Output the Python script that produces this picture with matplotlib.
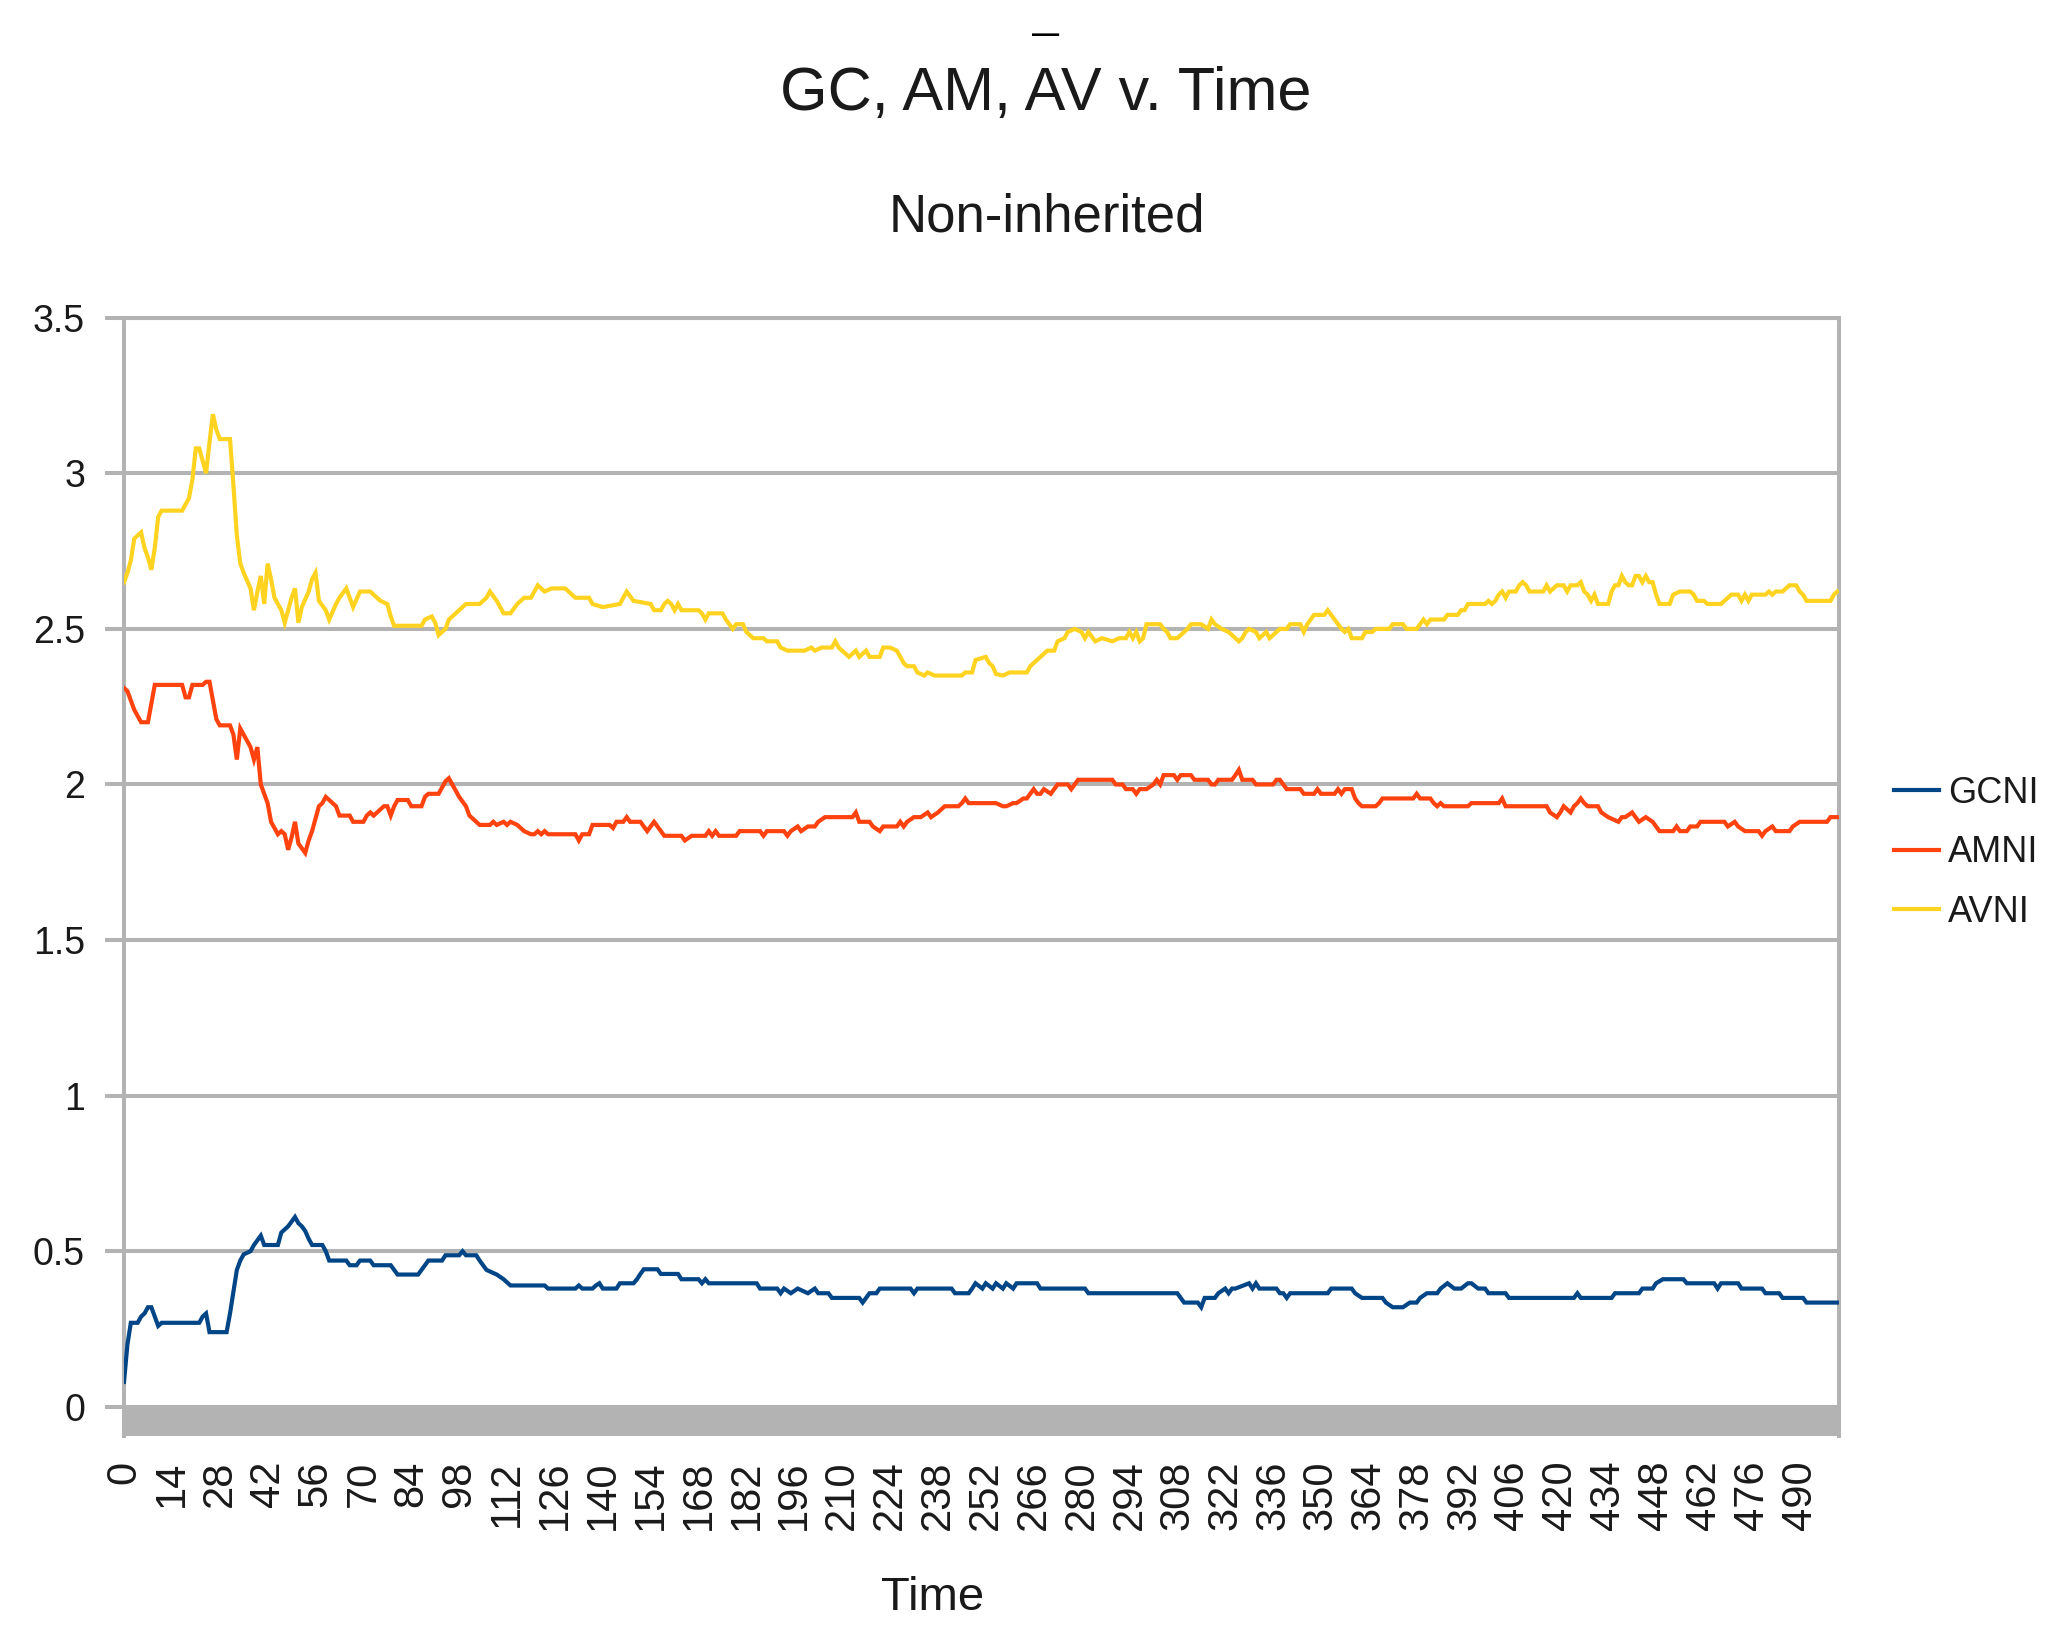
import matplotlib
matplotlib.use("Agg")
import matplotlib.pyplot as plt
from matplotlib import font_manager

# GCNI (blue)
t_gc = [0, 1, 2, 4, 5, 6, 7, 8, 9, 10,
        11, 22, 23, 24, 25, 30, 31, 32, 33, 34,
        35, 37, 38, 39, 40, 41, 45, 46, 48, 50,
        51, 52, 53, 54, 55, 58, 59, 60, 65, 66,
        68, 69, 72, 73, 78, 79, 80, 86, 87, 88,
        89, 93, 94, 98, 99, 100, 103, 104, 106, 109,
        111, 113, 123, 124, 132, 133, 134, 137, 138, 139,
        140, 144, 145, 149, 150, 151, 152, 156, 157, 162,
        163, 168, 169, 170, 171, 185, 186, 191, 192, 193,
        195, 197, 200, 202, 203, 206, 207, 215, 216, 217,
        218, 220, 221, 230, 231, 232, 242, 243, 247, 248,
        249, 251, 252, 254, 255, 257, 258, 260, 261, 267,
        268, 281, 282, 308, 309, 310, 314, 315, 316, 319,
        320, 322, 323, 324, 325, 329, 330, 331, 332, 337,
        338, 339, 340, 341, 352, 353, 359, 360, 362, 368,
        369, 371, 374, 376, 378, 379, 381, 384, 385, 387,
        389, 391, 393, 394, 396, 398, 399, 404, 405, 424,
        425, 426, 435, 436, 443, 444, 447, 448, 450, 456,
        457, 465, 466, 467, 472, 473, 479, 480, 484, 485,
        491, 492, 501]
gc = [0.08, 0.20, 0.27, 0.27, 0.29, 0.30, 0.32, 0.32, 0.29, 0.26,
      0.27, 0.27, 0.29, 0.30, 0.24, 0.24, 0.30, 0.37, 0.44, 0.47,
      0.49, 0.50, 0.52, 0.535, 0.55, 0.52, 0.52, 0.56, 0.58, 0.61,
      0.59, 0.58, 0.565, 0.54, 0.52, 0.52, 0.50, 0.47, 0.47, 0.455,
      0.455, 0.47, 0.47, 0.455, 0.455, 0.44, 0.425, 0.425, 0.44, 0.455,
      0.47, 0.47, 0.487, 0.487, 0.50, 0.487, 0.487, 0.47, 0.44, 0.425,
      0.41, 0.39, 0.39, 0.38, 0.38, 0.39, 0.38, 0.38, 0.39, 0.397,
      0.38, 0.38, 0.397, 0.397, 0.41, 0.427, 0.442, 0.442, 0.427, 0.427,
      0.41, 0.41, 0.397, 0.41, 0.397, 0.397, 0.38, 0.38, 0.365, 0.38,
      0.365, 0.38, 0.365, 0.38, 0.365, 0.365, 0.35, 0.35, 0.335, 0.35,
      0.365, 0.365, 0.38, 0.38, 0.365, 0.38, 0.38, 0.365, 0.365, 0.38,
      0.397, 0.38, 0.397, 0.38, 0.397, 0.38, 0.397, 0.38, 0.397, 0.397,
      0.38, 0.38, 0.365, 0.365, 0.35, 0.335, 0.335, 0.32, 0.35, 0.35,
      0.365, 0.38, 0.365, 0.38, 0.38, 0.397, 0.38, 0.397, 0.38, 0.38,
      0.365, 0.365, 0.35, 0.365, 0.365, 0.38, 0.38, 0.365, 0.35, 0.35,
      0.335, 0.32, 0.32, 0.335, 0.335, 0.35, 0.365, 0.365, 0.38, 0.397,
      0.38, 0.38, 0.397, 0.397, 0.38, 0.38, 0.365, 0.365, 0.35, 0.35,
      0.365, 0.35, 0.35, 0.365, 0.365, 0.38, 0.38, 0.397, 0.41, 0.41,
      0.397, 0.397, 0.38, 0.397, 0.397, 0.38, 0.38, 0.365, 0.365, 0.35,
      0.35, 0.335, 0.335]

# AMNI (red)
t_am = [0, 1, 2, 3, 5, 7, 8, 9, 17, 18,
        19, 20, 23, 24, 25, 26, 27, 28, 31, 32,
        33, 34, 35, 37, 38, 39, 40, 41, 42, 43,
        45, 46, 47, 48, 49, 50, 51, 53, 54, 55,
        56, 57, 58, 59, 60, 62, 63, 66, 67, 70,
        71, 72, 73, 75, 76, 77, 78, 79, 80, 83,
        84, 87, 88, 89, 92, 93, 94, 95, 96, 97,
        98, 100, 101, 103, 104, 107, 108, 109, 111, 112,
        113, 115, 117, 119, 120, 121, 122, 123, 124, 132,
        133, 134, 136, 137, 142, 143, 144, 146, 147, 148,
        151, 152, 153, 155, 156, 157, 158, 163, 164, 166,
        170, 171, 172, 173, 174, 179, 180, 186, 187, 188,
        193, 194, 195, 197, 198, 200, 202, 203, 205, 213,
        214, 215, 218, 219, 221, 222, 226, 227, 228, 229,
        231, 233, 235, 236, 238, 240, 244, 245, 246, 247,
        255, 257, 258, 260, 261, 263, 264, 265, 266, 267,
        268, 269, 271, 272, 273, 276, 277, 278, 279, 289,
        290, 292, 293, 295, 296, 297, 299, 301, 302, 303,
        304, 307, 308, 309, 312, 313, 317, 318, 319, 320,
        324, 325, 326, 327, 330, 331, 336, 337, 338, 339,
        340, 344, 345, 348, 349, 350, 351, 354, 355, 356,
        357, 359, 360, 361, 362, 366, 367, 368, 370, 371,
        377, 378, 379, 382, 383, 384, 385, 386, 393, 394,
        402, 403, 404, 405, 416, 417, 419, 420, 421, 423,
        424, 425, 426, 427, 428, 431, 432, 434, 437, 438,
        439, 441, 442, 443, 445, 447, 448, 449, 453, 454,
        455, 457, 458, 460, 461, 468, 469, 471, 472, 474,
        478, 479, 480, 482, 483, 487, 488, 490, 498, 499,
        501]
am = [2.31, 2.30, 2.27, 2.24, 2.20, 2.20, 2.26, 2.32, 2.32, 2.28,
      2.28, 2.32, 2.32, 2.33, 2.33, 2.27, 2.21, 2.19, 2.19, 2.16,
      2.08, 2.18, 2.16, 2.12, 2.08, 2.12, 2.00, 1.97, 1.94, 1.88,
      1.84, 1.85, 1.84, 1.79, 1.83, 1.88, 1.81, 1.78, 1.82, 1.85,
      1.89, 1.93, 1.94, 1.96, 1.95, 1.93, 1.90, 1.90, 1.88, 1.88,
      1.90, 1.91, 1.90, 1.92, 1.93, 1.93, 1.90, 1.93, 1.95, 1.95,
      1.93, 1.93, 1.96, 1.97, 1.97, 1.99, 2.01, 2.02, 2.00, 1.98,
      1.96, 1.93, 1.90, 1.88, 1.87, 1.87, 1.88, 1.87, 1.88, 1.87,
      1.88, 1.87, 1.85, 1.84, 1.84, 1.85, 1.84, 1.85, 1.84, 1.84,
      1.82, 1.84, 1.84, 1.87, 1.87, 1.86, 1.88, 1.88, 1.895, 1.88,
      1.88, 1.865, 1.85, 1.88, 1.865, 1.85, 1.835, 1.835, 1.82, 1.835,
      1.835, 1.85, 1.835, 1.85, 1.835, 1.835, 1.85, 1.85, 1.835, 1.85,
      1.85, 1.835, 1.85, 1.865, 1.85, 1.865, 1.865, 1.88, 1.895, 1.895,
      1.91, 1.88, 1.88, 1.865, 1.85, 1.865, 1.865, 1.88, 1.865, 1.88,
      1.895, 1.895, 1.91, 1.895, 1.91, 1.93, 1.93, 1.94, 1.955, 1.94,
      1.94, 1.93, 1.93, 1.94, 1.94, 1.955, 1.955, 1.97, 1.985, 1.97,
      1.97, 1.985, 1.97, 1.985, 2.00, 2.00, 1.985, 2.00, 2.015, 2.015,
      2.00, 2.00, 1.985, 1.985, 1.97, 1.985, 1.985, 2.00, 2.015, 2.00,
      2.03, 2.03, 2.015, 2.03, 2.03, 2.015, 2.015, 2.00, 2.00, 2.015,
      2.015, 2.03, 2.047, 2.015, 2.015, 2.00, 2.00, 2.015, 2.015, 2.00,
      1.985, 1.985, 1.97, 1.97, 1.985, 1.97, 1.97, 1.97, 1.985, 1.97,
      1.985, 1.985, 1.955, 1.94, 1.93, 1.93, 1.94, 1.955, 1.955, 1.955,
      1.955, 1.97, 1.955, 1.955, 1.94, 1.93, 1.94, 1.93, 1.93, 1.94,
      1.94, 1.955, 1.93, 1.93, 1.93, 1.91, 1.895, 1.91, 1.93, 1.91,
      1.93, 1.94, 1.955, 1.94, 1.93, 1.93, 1.91, 1.895, 1.88, 1.895,
      1.895, 1.91, 1.895, 1.88, 1.895, 1.88, 1.865, 1.85, 1.85, 1.865,
      1.85, 1.85, 1.865, 1.865, 1.88, 1.88, 1.865, 1.88, 1.865, 1.85,
      1.85, 1.835, 1.85, 1.865, 1.85, 1.85, 1.865, 1.88, 1.88, 1.895,
      1.895]

# AVNI (yellow)
t_av = [0, 1, 2, 3, 5, 6, 7, 8, 9, 10,
        11, 17, 18, 19, 20, 21, 22, 23, 24, 25,
        26, 27, 28, 31, 32, 33, 34, 35, 37, 38,
        39, 40, 41, 42, 43, 44, 46, 47, 48, 49,
        50, 51, 52, 54, 55, 56, 57, 59, 60, 62,
        63, 65, 67, 69, 72, 75, 77, 78, 79, 87,
        88, 90, 91, 92, 94, 95, 97, 100, 104, 106,
        107, 109, 110, 111, 113, 115, 117, 119, 121, 123,
        125, 129, 131, 132, 136, 137, 140, 145, 146, 147,
        149, 154, 155, 157, 158, 159, 160, 161, 162, 163,
        168, 169, 170, 171, 175, 176, 177, 178, 179, 181,
        182, 184, 187, 188, 191, 192, 194, 196, 199, 201,
        202, 204, 207, 208, 209, 210, 212, 214, 215, 217,
        218, 221, 222, 224, 226, 227, 228, 229, 231, 232,
        234, 235, 237, 245, 246, 248, 249, 252, 253, 254,
        255, 257, 259, 264, 265, 266, 268, 270, 272, 273,
        275, 276, 278, 280, 281, 282, 284, 286, 289, 291,
        293, 294, 295, 296, 297, 298, 299, 303, 304, 305,
        306, 308, 310, 311, 312, 315, 317, 318, 319, 321,
        323, 325, 326, 327, 328, 329, 331, 332, 334, 335,
        337, 338, 340, 341, 344, 345, 346, 347, 348, 351,
        352, 353, 354, 355, 356, 357, 358, 359, 362, 363,
        365, 366, 370, 371, 374, 375, 378, 379, 380, 381,
        382, 386, 387, 390, 391, 392, 393, 398, 399, 400,
        401, 402, 403, 404, 405, 407, 408, 409, 410, 411,
        415, 416, 417, 419, 421, 422, 423, 425, 426, 427,
        428, 429, 430, 431, 432, 434, 435, 436, 437, 438,
        439, 440, 441, 442, 443, 444, 445, 446, 447, 448,
        449, 452, 453, 455, 458, 459, 460, 462, 463, 467,
        468, 470, 472, 473, 474, 475, 476, 480, 481, 482,
        483, 485, 487, 489, 490, 491, 492, 499, 500, 501]
av = [2.65, 2.68, 2.72, 2.79, 2.81, 2.76, 2.73, 2.69, 2.76, 2.86,
      2.88, 2.88, 2.90, 2.92, 2.98, 3.08, 3.08, 3.04, 3.00, 3.10,
      3.19, 3.14, 3.11, 3.11, 2.96, 2.80, 2.71, 2.68, 2.63, 2.56,
      2.62, 2.67, 2.58, 2.71, 2.66, 2.60, 2.56, 2.52, 2.56, 2.60,
      2.63, 2.52, 2.57, 2.62, 2.66, 2.68, 2.59, 2.56, 2.53, 2.58,
      2.60, 2.63, 2.57, 2.62, 2.62, 2.59, 2.58, 2.54, 2.51, 2.51,
      2.53, 2.54, 2.52, 2.48, 2.50, 2.53, 2.55, 2.58, 2.58, 2.60,
      2.62, 2.59, 2.57, 2.55, 2.55, 2.58, 2.60, 2.60, 2.64, 2.62,
      2.63, 2.63, 2.61, 2.60, 2.60, 2.58, 2.57, 2.58, 2.60, 2.62,
      2.59, 2.58, 2.56, 2.56, 2.58, 2.59, 2.58, 2.56, 2.58, 2.56,
      2.56, 2.55, 2.53, 2.55, 2.55, 2.53, 2.515, 2.50, 2.515, 2.515,
      2.49, 2.47, 2.47, 2.46, 2.46, 2.44, 2.43, 2.43, 2.43, 2.44,
      2.43, 2.44, 2.44, 2.46, 2.44, 2.43, 2.41, 2.43, 2.41, 2.43,
      2.41, 2.41, 2.44, 2.44, 2.43, 2.41, 2.39, 2.38, 2.38, 2.36,
      2.35, 2.36, 2.35, 2.35, 2.36, 2.36, 2.40, 2.41, 2.39, 2.38,
      2.355, 2.35, 2.36, 2.36, 2.38, 2.39, 2.41, 2.43, 2.43, 2.46,
      2.47, 2.49, 2.50, 2.49, 2.47, 2.49, 2.46, 2.47, 2.46, 2.47,
      2.47, 2.49, 2.47, 2.49, 2.46, 2.47, 2.515, 2.515, 2.50, 2.49,
      2.47, 2.47, 2.49, 2.50, 2.515, 2.515, 2.50, 2.53, 2.515, 2.50,
      2.49, 2.47, 2.46, 2.47, 2.49, 2.50, 2.49, 2.47, 2.49, 2.47,
      2.49, 2.50, 2.50, 2.515, 2.515, 2.49, 2.515, 2.53, 2.545, 2.545,
      2.56, 2.545, 2.53, 2.515, 2.50, 2.49, 2.50, 2.47, 2.47, 2.49,
      2.49, 2.50, 2.50, 2.515, 2.515, 2.50, 2.50, 2.515, 2.53, 2.515,
      2.53, 2.53, 2.545, 2.545, 2.56, 2.56, 2.58, 2.58, 2.59, 2.58,
      2.59, 2.61, 2.62, 2.60, 2.62, 2.62, 2.64, 2.65, 2.64, 2.62,
      2.62, 2.64, 2.62, 2.64, 2.64, 2.62, 2.64, 2.64, 2.65, 2.62,
      2.61, 2.59, 2.61, 2.58, 2.58, 2.58, 2.62, 2.64, 2.64, 2.67,
      2.65, 2.64, 2.64, 2.67, 2.67, 2.65, 2.67, 2.65, 2.65, 2.61,
      2.58, 2.58, 2.61, 2.62, 2.62, 2.61, 2.59, 2.59, 2.58, 2.58,
      2.59, 2.61, 2.61, 2.59, 2.61, 2.59, 2.61, 2.61, 2.62, 2.61,
      2.62, 2.62, 2.64, 2.64, 2.62, 2.61, 2.59, 2.59, 2.61, 2.62]

series_names = ["GCNI", "AMNI", "AVNI"]
series_colors = ["#004586", "#ff420e", "#ffd320"]
x_ticks = list(range(0, 491, 14))
y_ticks = [0, 0.5, 1, 1.5, 2, 2.5, 3, 3.5]

# pick a narrow face if the box has one, the chart text is condensed
have = {f.name for f in font_manager.fontManager.ttflist}
if "Liberation Sans Narrow" in have:
    head_font = "Liberation Sans Narrow"
    fs_title, fs_sub, fs_xlab, fs_leg = 54, 46, 41, 32
else:
    head_font = "Liberation Sans"
    fs_title, fs_sub, fs_xlab, fs_leg = 44, 38, 34, 26
tick_font = "Liberation Sans"
grey = "#b3b3b3"
ink = "#1a1a1a"

W, H = 2050, 1625
fig = plt.figure(figsize=(W / 100, H / 100), dpi=100)
ax = fig.add_axes([124 / W, 1 - 1435.6 / H, (1839 - 124) / W, (1435.6 - 317.7) / H])

ax.axhspan(-0.0925, 0, color=grey, lw=0, zorder=1)
for tt, vv, name, col in zip([t_gc, t_am, t_av], [gc, am, av], series_names, series_colors):
    ax.plot(tt, vv, color=col, lw=3.0, label=name, zorder=3, solid_joinstyle="miter")

ax.set_xlim(0, 501.5)
ax.set_ylim(-0.0925, 3.5)
ax.set_yticks(y_ticks)
ax.set_yticklabels([f"{v:g}" for v in y_ticks], fontfamily=tick_font, fontsize=27, color=ink)
ax.set_xticks(x_ticks)
ax.set_xticklabels([str(v) for v in x_ticks], rotation=90, fontfamily=tick_font,
                   fontsize=30, color=ink, va="top", ha="center")
ax.tick_params(axis="y", length=14, width=2.9, color=grey, pad=14)
ax.tick_params(axis="x", length=0, pad=18)
ax.yaxis.grid(True, color=grey, lw=2.9)
ax.set_axisbelow(True)
for side in ["left", "right", "top"]:
    ax.spines[side].set_color(grey)
    ax.spines[side].set_linewidth(2.9)
ax.spines["bottom"].set_visible(False)

fig.text(1046 / W, 1 - 94 / H, "GC, AM, AV v. Time", ha="center", va="center",
         fontsize=fs_title, fontfamily=head_font, color=ink)
# the bar that floats over the A of AV in the original title
fig.text(1045.5 / W, 1 - 35.5 / H, "\u2014", ha="center", va="center",
         fontsize=19.5, fontweight="bold", fontfamily="Liberation Sans", color="black")
fig.text(1047 / W, 1 - 218 / H, "Non-inherited", ha="center", va="center",
         fontsize=fs_sub, fontfamily=head_font, color=ink)
fig.text(933 / W, 1 - 1598 / H, "Time", ha="center", va="center",
         fontsize=fs_xlab, fontfamily=head_font, color=ink)

leg = ax.legend(loc="center left", bbox_to_anchor=(1894 / W, 1 - 853 / H),
                bbox_transform=fig.transFigure, frameon=False, borderpad=0,
                borderaxespad=0, handlelength=1.25, handletextpad=0.25,
                labelspacing=0.68, prop={"family": head_font, "size": fs_leg})
for txt in leg.get_texts():
    txt.set_color(ink)
for ln in leg.get_lines():
    ln.set_linewidth(3.0)

fig.savefig("out.png", dpi=100)
